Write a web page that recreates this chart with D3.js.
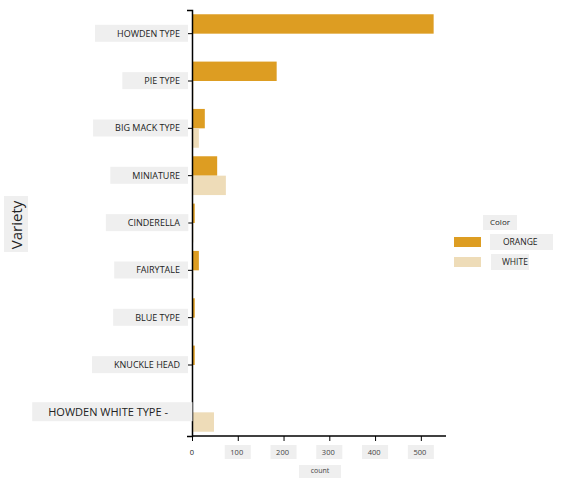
<!DOCTYPE html><html><head><meta charset="utf-8"><script src="https://cdn.jsdelivr.net/npm/d3@7"></script>
<style>body{margin:0;background:#fff}text{font-family:"Open Sans",sans-serif}</style></head><body><svg id="c" width="564" height="489"></svg>
<script>
const categories=["HOWDEN TYPE","PIE TYPE","BIG MACK TYPE","MINIATURE","CINDERELLA","FAIRYTALE","BLUE TYPE","KNUCKLE HEAD","HOWDEN WHITE TYPE -"];
const orangeValues=[528,185,28,55,6,15,6,6,0];
const whiteValues=[0,3,15,74,3,3,0,0,48];
const colors=["ORANGE","WHITE"];
const palette=["#dd9d22","#eedcb8"];
const xTicks=[0,100,200,300,400,500];
const svg=d3.select("#c");
const x=d3.scaleLinear().domain([0,555]).range([192,446]);
const y=d3.scaleBand().domain(categories).range([10,436]).paddingInner(0.18).paddingOuter(0.09);
const sub=d3.scaleBand().domain(colors).range([0,y.bandwidth()]);
const col=d3.scaleOrdinal().domain(colors).range(palette);
const data=[];categories.forEach((c,i)=>{data.push({c,k:"ORANGE",v:orangeValues[i]});data.push({c,k:"WHITE",v:whiteValues[i]});});
svg.selectAll("rect.bar").data(data.filter(d=>d.v>0)).join("rect").attr("class","bar")
 .attr("x",x(0)).attr("y",d=>y(d.c)+sub(d.k)).attr("width",d=>x(d.v)-x(0)).attr("height",sub.bandwidth()).attr("fill",d=>col(d.k));
// y axis
const ya=svg.append("g").attr("transform","translate(192,0)").call(d3.axisLeft(y).tickSize(5).tickFormat(""));
ya.select(".domain").attr("stroke","#000").attr("stroke-width",1.5);
categories.forEach((c,i)=>{
 const big=i===8, fs=big?11:9;
 const g=svg.append("g");
 const t=g.append("text").attr("x",big?168:180).attr("y",y(c)+y.bandwidth()/2).attr("dy","0.35em").attr("text-anchor","end").attr("font-size",fs).attr("fill","#222").text(c);
 const b=t.node().getBBox();
 g.insert("rect","text").attr("x",b.x-(big?16:22)).attr("y",b.y-2).attr("width",b.width+(big?40:30)).attr("height",b.height+4).attr("fill","#efefef");
});
// x axis
const xa=svg.append("g").attr("transform","translate(0,436)").call(d3.axisBottom(x).tickValues(xTicks).tickSize(5).tickFormat(""));
xa.select(".domain").attr("stroke","#000").attr("stroke-width",1.5).attr("d","M192,0H446");
xTicks.forEach(v=>{
 const g=svg.append("g");
 if(v>0)g.append("rect").attr("x",x(v)-13).attr("y",445).attr("width",26).attr("height",14).attr("fill","#efefef");
 g.append("text").attr("x",x(v)-(v?1:0)).attr("y",452).attr("dy","0.35em").attr("text-anchor","middle").attr("font-size",7.5).attr("fill",v?"#444":"#222").text(v);
});
svg.append("rect").attr("x",299).attr("y",465).attr("width",42).attr("height",13).attr("fill","#efefef");
svg.append("text").attr("x",320).attr("y",471).attr("dy","0.35em").attr("text-anchor","middle").attr("font-size",7).attr("fill","#444").text("count");
// y title
svg.append("rect").attr("x",4).attr("y",196).attr("width",24).attr("height",56).attr("fill","#efefef");
svg.append("text").attr("transform","translate(17,225) rotate(-90)").attr("text-anchor","middle").attr("dy","0.35em").attr("font-size",15).attr("fill","#222").text("Variety");
// legend
svg.append("rect").attr("x",483).attr("y",215).attr("width",34).attr("height",15).attr("fill","#efefef");
svg.append("text").attr("x",500).attr("y",222).attr("dy","0.35em").attr("text-anchor","middle").attr("font-size",8).attr("fill","#222").text("Color");
colors.forEach((c,i)=>{
 const yy=242+i*20;
 svg.append("rect").attr("x",454).attr("y",yy-5).attr("width",27).attr("height",10).attr("fill",palette[i]);
 svg.append("rect").attr("x",i?491:490).attr("y",yy-8).attr("width",i?38:63).attr("height",16).attr("fill","#efefef");
 svg.append("text").attr("x",i?502:503).attr("y",yy).attr("dy","0.35em").attr("font-size",8.5).attr("fill","#222").text(c);
});
</script></body></html>
